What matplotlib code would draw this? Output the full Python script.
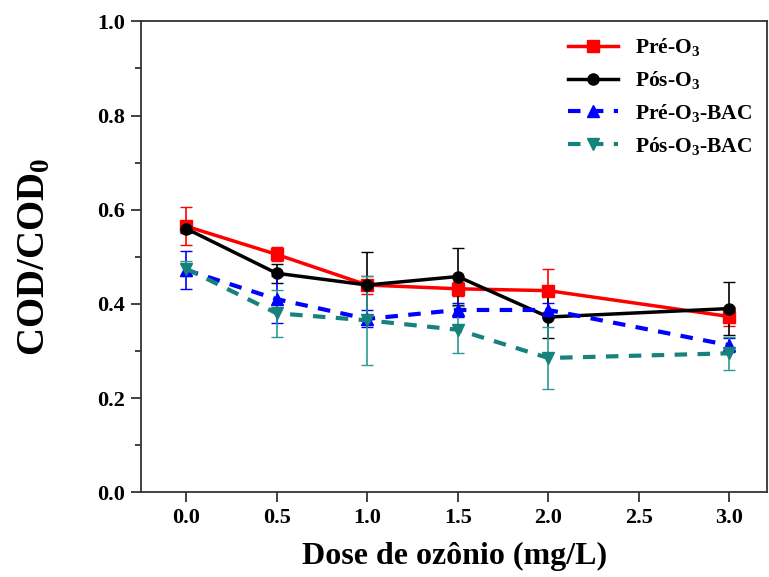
import matplotlib
matplotlib.use("Agg")
import matplotlib.pyplot as plt
from matplotlib.ticker import MultipleLocator

plt.rcParams['font.family'] = ['Liberation Serif', 'DejaVu Serif']
plt.rcParams['font.weight'] = 'bold'
plt.rcParams['mathtext.fontset'] = 'custom'
plt.rcParams['mathtext.rm'] = 'Liberation Serif:bold'
plt.rcParams['mathtext.default'] = 'rm'

dose = [0.0, 0.5, 1.0, 1.5, 2.0, 3.0]

pre_o3 = [0.565, 0.505, 0.440, 0.432, 0.428, 0.373]
pre_o3_err = [0.040, 0.015, 0.020, 0.015, 0.045, 0.020]

pos_o3 = [0.560, 0.465, 0.440, 0.458, 0.372, 0.390]
pos_o3_err = [0.010, 0.020, 0.070, 0.060, 0.045, 0.057]

pre_bac = [0.472, 0.410, 0.368, 0.387, 0.387, 0.312]
pre_bac_err = [0.040, 0.050, 0.018, 0.015, 0.015, 0.015]

pos_bac = [0.475, 0.380, 0.365, 0.345, 0.285, 0.295]
pos_bac_err = [0.015, 0.050, 0.095, 0.050, 0.065, 0.035]

fig = plt.figure(figsize=(7.69, 5.77), dpi=100)
ax = fig.add_axes([0.183, 0.147, 0.815, 0.816])

ax.errorbar(dose, pre_o3, yerr=pre_o3_err, color='red', marker='s', ms=8,
            lw=2.5, elinewidth=1.2, capsize=4, label='Pré-O$_3$')
ax.errorbar(dose, pos_o3, yerr=pos_o3_err, color='black', marker='o', ms=8,
            lw=2.5, elinewidth=1.2, capsize=4, label='Pós-O$_3$')
ax.errorbar(dose, pre_bac, yerr=pre_bac_err, color='blue', marker='^', ms=9,
            lw=3, ls=(0, (3, 2.5)), elinewidth=1.2, capsize=4,
            label='Pré-O$_3$-BAC')
ax.errorbar(dose, pos_bac, yerr=pos_bac_err, color='#17817c', marker='v', ms=9,
            lw=3, ls=(0, (3, 2.5)), elinewidth=1.2, ecolor='#2a9a96', capsize=4,
            label='Pós-O$_3$-BAC')

ax.set_xlim(-0.25, 3.21)
ax.set_ylim(0.0, 1.0)
ax.set_xticks([0.0, 0.5, 1.0, 1.5, 2.0, 2.5, 3.0])
ax.set_yticks([0.0, 0.2, 0.4, 0.6, 0.8, 1.0])
ax.yaxis.set_minor_locator(MultipleLocator(0.1))
ax.xaxis.set_major_formatter(plt.FormatStrFormatter('%.1f'))
ax.yaxis.set_major_formatter(plt.FormatStrFormatter('%.1f'))

for s in ax.spines.values():
    s.set_color('#333333')
    s.set_linewidth(1.3)
ax.tick_params(axis='both', which='both', direction='out', color='#333333',
               width=1.3, top=False, right=False)
ax.tick_params(axis='both', which='major', length=7.5, labelsize=16, pad=4)
ax.tick_params(axis='y', which='minor', length=4.5)
ax.tick_params(axis='x', which='minor', bottom=False)

ax.set_xlabel('Dose de ozônio (mg/L)', fontsize=23, fontweight='bold', labelpad=10)
ax.set_ylabel('COD/COD$_0$', fontsize=28, fontweight='bold')
ax.yaxis.set_label_coords(-0.14, 0.5)

# legend shows only line + marker, no error bars
handles, labels = ax.get_legend_handles_labels()
handles = [h[0] for h in handles]
ax.legend(handles, labels, loc='upper right', frameon=False, fontsize=15.5,
          handlelength=2.3, labelspacing=0.5, borderaxespad=0.3)

fig.savefig('out.png', dpi=100)
